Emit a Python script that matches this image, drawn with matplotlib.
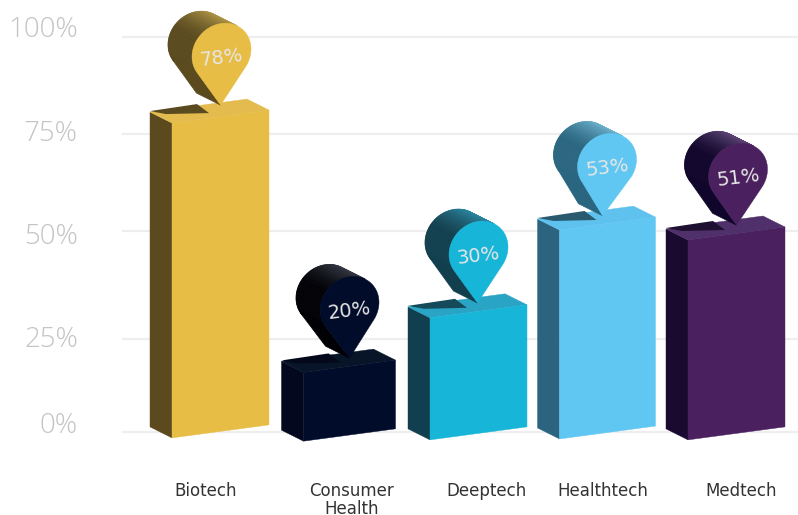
#!/usr/bin/env python3
import numpy as np
import matplotlib; matplotlib.use('Agg')
import matplotlib.pyplot as plt
from matplotlib.colors import to_rgb

categories = ['Biotech', 'Consumer\nHealth', 'Deeptech', 'Healthtech', 'Medtech']
values = [78, 20, 30, 53, 51]                  # printed on the pins
bar_tops = [81.5, 18.2, 32.2, 54.4, 51.9]      # front right corner of each block, as drawn
bar_bases = [1.8, 0.8, 1.3, 1.5, 1.3]
pin_tips = [82.8, 18.7, 32.7, 54.9, 52.4]
grid_values = [0, 23.5, 51, 75.5, 100]
tick_values = [1.5, 23.3, 49.4, 75.5, 101.8]
tick_labels = ['0%', '25%', '50%', '75%', '100%']

front_cols = ['#E8BD45', '#010B2A', '#17B5D8', '#60C6F2', '#4A215E']
side_cols = ['#5C4A1E', '#03081F', '#123F4F', '#2C6480', '#1A0A30']
top_cols = ['#E3BB4E', '#081528', '#2AA4C4', '#5FC2EE', '#50306A']
shade_cols = ['#5A4A20', '#03081A', '#154A5A', '#2A5A70', '#1E1030']
pin_dark = ['#5A4A1E', '#000005', '#123F4E', '#2A6680', '#10052A']
pin_light = ['#B49A48', '#3A3E4A', '#2E8CA8', '#72B8D4', '#644A7C']

# scale: pixels per category step / per percent
PX, PY = 129.0, 3.95
X0, Y0 = 220.5, 432.0
W, H = 798, 515
FRONT_W = [97, 92, 97, 96, 97]
SIDE_DX, SIDE_DY, SLOPE = 22, 11, 13 / 97
PIN_DX, PIN_DY = 24, 12
PIN_SHIFT = [1, 0, 0, -0.5, 1.5]   # head centre against bar centre
TIP_SHIFT = [0, 0, -1, -5, 0]

fig = plt.figure(figsize=(W / 100, H / 100), dpi=100, facecolor='white')
ax = fig.add_axes([0, 0, 1, 1])
ax.set_xlim(-X0 / PX, (W - X0) / PX)
ax.set_ylim((Y0 - H) / PY, Y0 / PY)
ax.axis('off')


def to_data(x, y, pts):
    """pts: pixel offsets (y up) around the data point x, y"""
    pts = np.asarray(pts, float)
    return np.column_stack([x + pts[:, 0] / PX, y + pts[:, 1] / PY])


def pin_outline(r=29.5, d=52, tx=0, n=90):
    a = np.arccos(r / d)
    th = np.linspace(-np.pi / 2 + a, 3 * np.pi / 2 - a, n)
    pts = np.column_stack([r * np.cos(th), r * np.sin(th)])
    pts = np.vstack([pts, [[tx, -d]]])
    pts[:, 1] += 0.13 * pts[:, 0]
    return pts


def mix(c1, c2, t):
    return tuple((1 - t) * np.array(to_rgb(c1)) + t * np.array(to_rgb(c2)))


for g in grid_values:
    ax.plot([123 / PX - X0 / PX, (W - X0) / PX], [g, g], color='#EEEEEE', lw=1.6, zorder=1)
for v, lab in zip(tick_values, tick_labels):
    ax.text((78 - X0) / PX, v, lab, ha='right', va='center', fontsize=20, color='#C4C4C4',
            family='Open Sans', fontweight='light')

for i in range(len(categories)):
    w = FRONT_W[i]
    top, base = bar_tops[i], bar_bases[i]
    rise = SLOPE * w
    # corners in pixel offsets from the front right corner at the bar top
    fr = to_data(i + w / 2 / PX, top, [[0, 0], [-w, -rise]])
    br = to_data(i + w / 2 / PX, base, [[0, 0], [-w, -rise]])
    front = [fr[0], fr[1], br[1], br[0]]
    side = np.vstack([to_data(*fr[1], [[0, 0], [-SIDE_DX, SIDE_DY]]),
                      to_data(*br[1], [[-SIDE_DX, SIDE_DY], [0, 0]])])
    lid = np.vstack([fr[0], fr[1], to_data(*fr[1], [[-SIDE_DX, SIDE_DY]]),
                     to_data(*fr[0], [[-SIDE_DX, SIDE_DY]])])
    ax.fill(*side.T, color=side_cols[i], lw=0.3, zorder=3)
    ax.fill(*lid.T, color=top_cols[i], lw=0.3, zorder=3)
    ax.fill(*np.array(front).T, color=front_cols[i], lw=0.3, zorder=4)
    # sliver of shadow the pin throws on the lid
    corner = to_data(*fr[1], [[-SIDE_DX, SIDE_DY]])[0]
    shade = to_data(*corner, [[0, 1], [47, 8], [59, -1], [16, -2]])
    ax.fill(*shade.T, color=shade_cols[i], lw=0, zorder=5)

    # pin: extruded side first, face on top
    hx = i + PIN_SHIFT[i] / PX
    hy = pin_tips[i] + 52 / PY
    outline = pin_outline(tx=TIP_SHIFT[i] - PIN_SHIFT[i])
    off = np.array([-PIN_DX, PIN_DY])
    loop = np.vstack([outline, outline[:1]])
    light = np.array([0.5, 0.85])
    for p, q in zip(loop[:-1], loop[1:]):
        e = q - p
        nrm = np.array([e[1], -e[0]]) / np.hypot(*e)
        # anticlockwise outline: outward normal is e rotated clockwise
        if nrm @ off <= 0:
            continue
        t = np.clip(nrm @ light, 0, 1) ** 1.5
        c = mix(pin_dark[i], pin_light[i], t)
        quad = to_data(hx, hy, [p, q, q + off, p + off])
        ax.fill(*quad.T, color=c, lw=0.5, zorder=6)
    ax.fill(*to_data(hx, hy, outline).T, color=front_cols[i], lw=0.3, zorder=7)
    ax.text(hx, hy - 5 / PY, f'{values[i]}%', ha='center', va='center', fontsize=14,
            color='#E6E6E6', rotation=7, rotation_mode='anchor', zorder=8)

    ax.text(i + [-15, 2, 8, -5, 5][i] / PX, (Y0 - 482) / PY, categories[i], ha='center', va='top',
            fontsize=12, color='#333333', linespacing=1.0, clip_on=True)

fig.savefig('out.png', dpi=100)
